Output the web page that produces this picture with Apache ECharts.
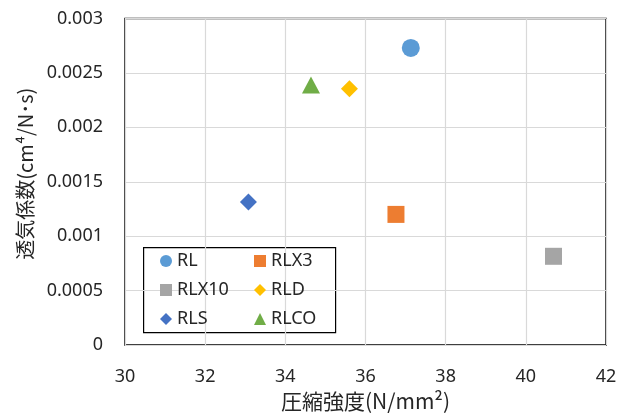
<!DOCTYPE html>
<html><head><meta charset="utf-8">
<script src="https://cdn.jsdelivr.net/npm/echarts@6/dist/echarts.min.js"></script>
<style>html,body{margin:0;padding:0;background:#fff}#c{width:633px;height:419px}</style>
</head><body><div id="c"></div>
<script>
const seriesNames = ['RL','RLX3','RLX10','RLD','RLS','RLCO'];
const xValues = [37.13, 36.76, 40.69, 35.60, 33.08, 34.64];
const yValues = [0.00273, 0.00120, 0.000815, 0.002355, 0.001315, 0.00239];
const colors = ['#5B9BD5','#ED7D31','#A5A5A5','#FFC000','#4472C4','#70AD47'];
const symbols = ['circle','rect','rect','diamond','diamond','triangle'];
const symbolSizes = [18,17,17,[17,17],[17,17],[18,17]];
const legendIcons = ['circle','rect','rect','diamond','diamond','triangle'];
const xTicks = ['30','32','34','36','38','40','42'];
const yTicks = ['0','0.0005','0.001','0.0015','0.002','0.0025','0.003'];

const font = '"Noto Sans", sans-serif';
const jp = '"Noto Sans CJK JP", sans-serif';

const chart = echarts.init(document.getElementById('c'));
const series = seriesNames.map((n,i)=>({
  name:n, type:'scatter', data:[[xValues[i], yValues[i]]],
  symbol:symbols[i], symbolSize:symbolSizes[i],
  itemStyle:{color:colors[i], opacity:1}
}));
const col1 = [0,2,4], col2=[1,3,5];
const mkLegend = (idx,left)=>({
  orient:'vertical', left:left, top:252, padding:0, itemGap:11, itemWidth:12, itemHeight:12,
  data: idx.map(i=>({name:seriesNames[i], icon:legendIcons[i], itemStyle:{color:colors[i]}})),
  textStyle:{fontFamily:font, fontSize:18, color:'#262626'}
});
chart.setOption({
  animation:false,
  grid:{left:125, right:27, top:18.5, bottom:74, outerBoundsMode:'none', containLabel:false,
    show:true, borderColor:'#000', borderWidth:1.5},
  xAxis:{type:'value', min:30, max:42, interval:2,
    name:'圧縮強度(N/mm²)', nameLocation:'middle', nameGap:46,
    nameTextStyle:{fontFamily:jp, fontSize:21, color:'#262626'},
    axisLine:{show:false}, axisTick:{show:false},
    axisLabel:{margin:23, fontFamily:font, fontSize:18, color:'#262626',
      formatter:(v)=>xTicks[Math.round((v-30)/2)]},
    splitLine:{show:true, lineStyle:{color:'#d9d9d9', width:1.2}}},
  yAxis:{type:'value', min:0, max:0.003, interval:0.0005,
    name:'透気係数(cm⁴/N･s)', nameLocation:'middle', nameGap:89,
    nameTextStyle:{fontFamily:jp, fontSize:20, color:'#262626', padding:[0,0,0,16]},
    axisLine:{show:false}, axisTick:{show:false},
    axisLabel:{margin:22, fontFamily:font, fontSize:18, color:'#262626',
      formatter:(v)=>yTicks[Math.round(v/0.0005)]},
    splitLine:{show:true, lineStyle:{color:'#d9d9d9', width:1.2}}},
  legend:[mkLegend(col1,160), mkLegend(col2,254)],
  graphic:[{type:'rect', left:143, top:247, shape:{width:192, height:85},
    style:{fill:'rgba(255,255,255,1)', stroke:'#000', lineWidth:1.2}, z:0, zlevel:0}],
  series:series
});
</script></body></html>
